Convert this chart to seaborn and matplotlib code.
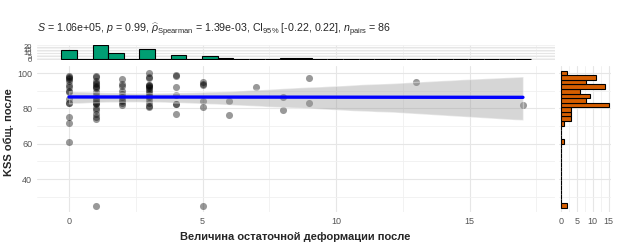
import numpy as np
import pandas as pd
import matplotlib
matplotlib.use("Agg")
import matplotlib.pyplot as plt
from matplotlib.ticker import MultipleLocator
from matplotlib.collections import PolyCollection
import seaborn as sns

# Величина остаточной деформации после (x) / KSS общ. после (y), 86 пар
deform = [0, 0, 0, 0, 0, 0, 0, 0, 0, 0, 0, 0, 0, 0, 0,
          1, 1, 1, 1, 1, 1, 1, 1, 1, 1, 1, 1, 1, 1, 1, 1, 1, 1, 1, 1, 1, 1,
          2, 2, 2, 2, 2, 2, 2, 2, 2, 2,
          3, 3, 3, 3, 3, 3, 3, 3, 3, 3, 3, 3, 3, 3, 3, 3, 3,
          4, 4, 4, 4, 4, 4, 4,
          5, 5, 5, 5, 5, 5,
          6, 6, 7, 8, 8, 9, 9, 13, 17]
kss = [98.5, 97.5, 97.2, 96.8, 95.5, 93, 92, 90, 89, 85.5, 83, 83, 75.2, 72, 61,
       98.5, 98, 95.5, 94.5, 94, 92.5, 92, 91.5, 89.5, 87.5, 86, 84.5, 84, 83,
       83, 82.5, 80, 79, 77, 75, 74, 25,
       96.5, 94, 92.5, 90, 88, 86.5, 85, 84, 83, 82,
       100, 98, 97, 93.2, 93, 92.5, 92, 91.5, 90.5, 89.5, 88, 87, 86.5, 85,
       83, 81.5, 81,
       99, 98.5, 92, 87.5, 82.5, 82.3, 77,
       95, 94, 93, 84.2, 81, 25,
       84, 76, 92.3, 86.5, 79, 97, 83, 95, 82.1]

subtitle = (r"$\it{S}$ = 1.06e+05, $\it{p}$ = 0.99, "
            r"$\widehat{\rho}_{\rm Spearman}$ = 1.39e-03, "
            r"CI$_{95\%}$ [-0.22, 0.22], $\it{n}_{\rm pairs}$ = 86")
xlab = "Величина остаточной деформации после"
ylab = "KSS общ. после"

df = pd.DataFrame({"x": deform, "y": kss})

sns.set_style("white")
plt.rcParams["font.family"] = ["Liberation Sans", "DejaVu Sans"]
plt.rcParams["mathtext.fontset"] = "custom"
plt.rcParams["mathtext.rm"] = "Liberation Sans"
plt.rcParams["mathtext.it"] = "Liberation Sans:italic"

W, H = 624, 248
fig = plt.figure(figsize=(W / 100, H / 100), dpi=100)
ax = fig.add_axes([37 / W, 1 - 212.2 / H, 518 / W, 145.8 / H])
ax_top = fig.add_axes([37 / W, 1 - 60 / H, 518 / W, 15.3 / H])
ax_right = fig.add_axes([558.7 / W, 1 - 212.2 / H, 52.3 / W, 145.8 / H])

tick_col = "#555555"
for a in (ax, ax_top, ax_right):
    for s in a.spines.values():
        s.set_visible(False)
    a.set_axisbelow(True)
    a.grid(True, which="major", color="#E6E6E6", lw=0.8)
    a.grid(True, which="minor", color="#F0F0F0", lw=0.6)
    a.tick_params(which="major", length=2, color="#999999", labelsize=6.5,
                  labelcolor=tick_col, pad=1.5)
    a.tick_params(which="minor", length=0)

# main scatter + lm
sns.regplot(data=df, x="x", y="y", ax=ax, ci=95, seed=1,
            scatter_kws=dict(s=26, color="black", alpha=0.4, linewidths=0),
            line_kws=dict(color="blue", lw=2.4))
for c in ax.collections:
    if isinstance(c, PolyCollection):
        c.set_facecolor("#999999")
        c.set_alpha(0.4)
ax.set_xlim(-1.2, 18.2)
ax.set_ylim(21.25, 103.75)
ax.xaxis.set_major_locator(MultipleLocator(5))
ax.xaxis.set_minor_locator(MultipleLocator(2.5))
ax.yaxis.set_major_locator(MultipleLocator(20))
ax.yaxis.set_minor_locator(MultipleLocator(10))
ax.set_yticks([40, 60, 80, 100])
ax.set_xlabel("")
ax.set_ylabel("")

# top marginal histogram
wx = (max(deform) - min(deform)) / 29
bx = np.linspace(min(deform) - wx / 2, max(deform) + wx / 2, 31)
sns.histplot(x=deform, bins=bx, ax=ax_top, color="#009E73", alpha=1,
             edgecolor="black", linewidth=0.8)
ax_top.set_xlim(-1.2, 18.2)
ax_top.set_ylim(-1.1, 23.1)
ax_top.xaxis.set_major_locator(MultipleLocator(5))
ax_top.xaxis.set_minor_locator(MultipleLocator(2.5))
ax_top.yaxis.set_major_locator(MultipleLocator(5))
ax_top.yaxis.set_minor_locator(MultipleLocator(2.5))
ax_top.set_yticks([0, 5, 10, 15, 20])
ax_top.tick_params(axis="x", labelbottom=False, length=0)
ax_top.tick_params(axis="y", labelsize=5.5)
ax_top.set_xlabel("")
ax_top.set_ylabel("")

# right marginal histogram
wy = (max(kss) - min(kss)) / 29
by = np.linspace(min(kss) - wy / 2, max(kss) + wy / 2, 31)
sns.histplot(y=kss, bins=by, ax=ax_right, color="#D55E00", alpha=1,
             edgecolor="black", linewidth=0.8)
ax_right.set_ylim(21.25, 103.75)
ax_right.set_xlim(-0.75, 15.75)
ax_right.xaxis.set_major_locator(MultipleLocator(5))
ax_right.xaxis.set_minor_locator(MultipleLocator(2.5))
ax_right.yaxis.set_major_locator(MultipleLocator(20))
ax_right.yaxis.set_minor_locator(MultipleLocator(10))
ax_right.set_xticks([0, 5, 10, 15])
ax_right.tick_params(axis="y", labelleft=False, length=0)
ax_right.set_xlabel("")
ax_right.set_ylabel("")

fig.text(37 / W, 1 - 30 / H, subtitle, fontsize=7.7, va="center", ha="left")
fig.text(295 / W, 1 - 237 / H, xlab, fontsize=8, fontweight="bold",
         ha="center", va="center")
fig.text(9 / W, 1 - 132 / H, ylab, fontsize=8, fontweight="bold",
         rotation=90, ha="center", va="center")

fig.savefig("out.png", dpi=100)
